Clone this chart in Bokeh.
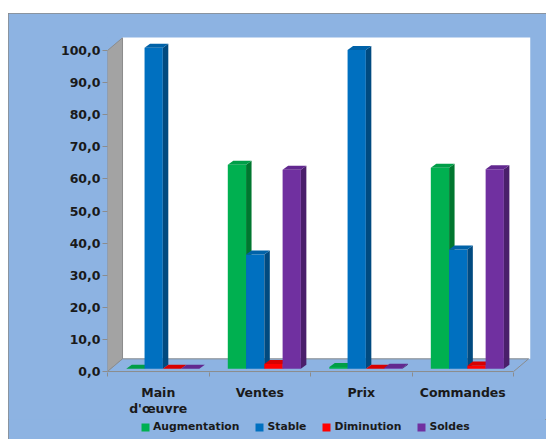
import numpy as np
from bokeh.plotting import figure
from bokeh.models import Range1d, FixedTicker, Legend, LegendItem, Spacer
from bokeh.layouts import column, row
from bokeh.embed import file_html
from bokeh.resources import INLINE

categories = ["Main\nd'œuvre", "Ventes", "Prix", "Commandes"]
series = ["Augmentation", "Stable", "Diminution", "Soldes"]
augmentation = [0.0, 63.6, 0.6, 62.6]
stable = [100.0, 35.6, 99.3, 37.2]
diminution = [0.0, 1.5, 0.0, 1.0]
soldes = [0.0, 62.0, 0.3, 62.2]
yticks = [0, 10, 20, 30, 40, 50, 60, 70, 80, 90, 100]

values = [augmentation, stable, diminution, soldes]
front_colors = ["#00B050", "#0070C0", "#FF0000", "#7030A0"]
side_colors = ["#00772F", "#004A80", "#B00000", "#4A1F6B"]
top_colors = ["#009E48", "#0062A8", "#D80000", "#62288F"]

BG = "#8DB3E2"
n = len(categories)
x_end = 4.167
dx, dy = 0.148, 3.95          # wall depth
bdx, bdy = 0.054, 1.25        # bar depth
base = 0.84
w = 0.18
shift = 0.045

p = figure(output_backend="svg", toolbar_location=None,
           frame_width=423, frame_height=335,
           x_range=Range1d(0, x_end), y_range=Range1d(-0.3, 104.05),
           min_border_left=99, min_border_right=16, min_border_top=24,
           min_border_bottom=46)
p.border_fill_color = BG
p.background_fill_color = BG
p.outline_line_color = None
p.grid.visible = False

# back wall
p.quad(left=[dx], right=[x_end], bottom=[dy], top=[104.05 + 5], fill_color="white", line_color=None)
# left wall
p.patch([0, dx, dx, 0], [0, dy, 100 + dy, 100], fill_color="#A3A3A3", line_color="#8C8C8C", line_width=1)
# floor
p.patch([0, n, n + dx, dx], [0, 0, dy, dy], fill_color=BG, line_color="#8C8C8C", line_width=1)

for j, vals in enumerate(values):
    v = np.array(vals)
    xl = np.arange(n) + 0.5 + shift - 2 * w + j * w
    xr = xl + w
    y0 = np.full(n, base)
    y1 = v + base
    p.quad(left=xl, right=xr, bottom=y0, top=y1, fill_color=front_colors[j], line_color=None)
    side_xs = [[a, a + bdx, a + bdx, a] for a in xr]
    side_ys = [[b0, b0 + bdy, b1 + bdy, b1] for b0, b1 in zip(y0, y1)]
    p.patches(side_xs, side_ys, fill_color=side_colors[j], line_color=None)
    top_xs = [[a, a + bdx, b + bdx, b] for a, b in zip(xl, xr)]
    top_ys = [[b1, b1 + bdy, b1 + bdy, b1] for b1 in y1]
    p.patches(top_xs, top_ys, fill_color=top_colors[j], line_color=None)

# y axis
ya = p.yaxis[0]
ya.ticker = FixedTicker(ticks=yticks)
ya.major_label_overrides = {t: f"{t:.1f}".replace(".", ",") for t in yticks}
ya.axis_line_color = None
ya.major_tick_line_color = "#8C8C8C"
ya.major_tick_out = 5
ya.major_tick_in = 0
ya.minor_tick_line_color = None
ya.major_label_standoff = 2
ya.major_label_text_font = "DejaVu Sans"
ya.major_label_text_font_style = "bold"
ya.major_label_text_font_size = "12.5px"
ya.major_label_text_color = "#1A1A1A"

# x axis
xa = p.xaxis[0]
centers = [i + 0.5 for i in range(n)]
xa.ticker = FixedTicker(ticks=centers, minor_ticks=list(range(n + 1)))
xa.major_label_overrides = {c: lab for c, lab in zip(centers, categories)}
xa.axis_line_color = None
xa.major_tick_line_color = None
xa.major_tick_out = 0
xa.minor_tick_line_color = "#8C8C8C"
xa.minor_tick_out = 4
xa.minor_tick_in = 0
xa.major_label_standoff = 8
xa.major_label_text_font = "DejaVu Sans"
xa.major_label_text_font_style = "bold"
xa.major_label_text_font_size = "12.5px"
xa.major_label_text_line_height = 1.1
xa.major_label_text_color = "#1A1A1A"

# legend strip (separate figure directly below the chart)
lg = figure(output_backend="svg", toolbar_location=None,
            width=538, height=21, x_range=Range1d(0, 1), y_range=Range1d(0, 1),
            min_border=0, x_axis_location=None, y_axis_location=None)
lg.border_fill_color = BG
lg.background_fill_color = BG
lg.outline_line_color = None
lg.grid.visible = False
items = []
for s, c in zip(series, front_colors):
    r = lg.quad(left=[5], right=[6], bottom=[5], top=[6], fill_color=c, line_color=None)
    items.append(LegendItem(label=s, renderers=[r]))
legend = Legend(items=items, orientation="horizontal", location=(33, 7),
                glyph_width=10, glyph_height=10, label_standoff=3, spacing=15,
                padding=0, margin=0, border_line_color=None, background_fill_alpha=0,
                label_text_font="DejaVu Sans", label_text_font_style="bold",
                label_text_font_size="10.8px", label_text_color="#1A1A1A",
                label_height=10)
lg.add_layout(legend, "center")

inner = column(p, lg, styles={"background-color": BG,
                              "outline": "1px solid #8A8A8A",
                              "outline-offset": "-1px"})
layout = column(Spacer(height=13), row(Spacer(width=8), inner))
open("out.html", "w").write(file_html(layout, INLINE))
